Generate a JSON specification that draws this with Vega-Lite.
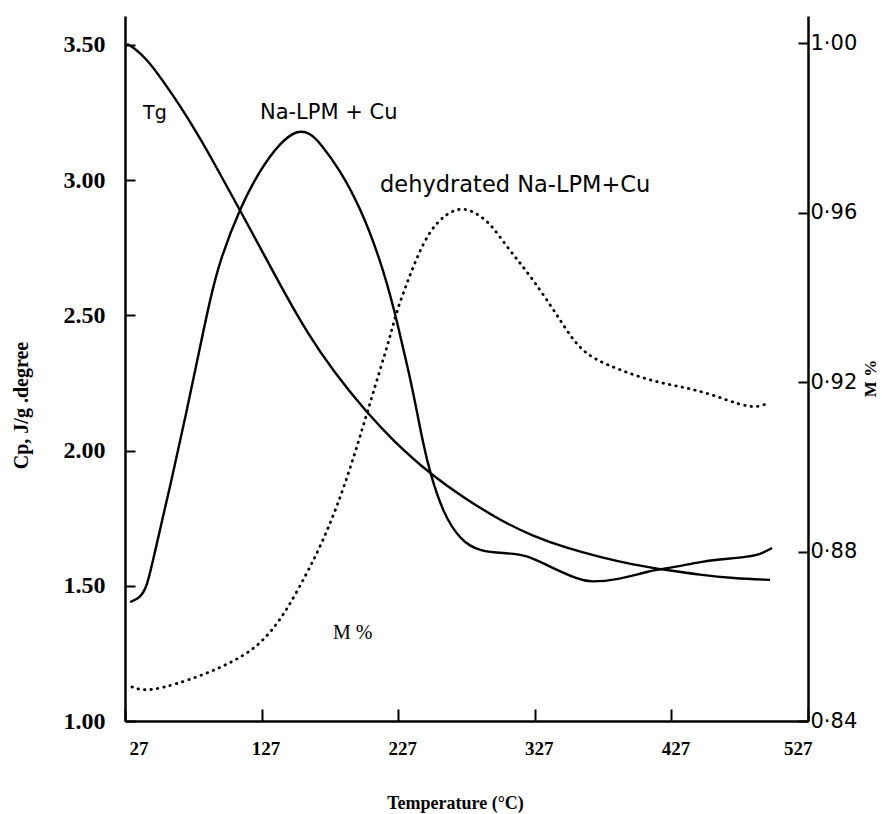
{
  "$schema": "https://vega.github.io/schema/vega-lite/v6.json",
  "width": 683,
  "height": 705,
  "autosize": {"type": "none"},
  "padding": {"left": 125, "top": 16, "right": 74, "bottom": 93},
  "background": "white",
  "config": {
    "view": {"stroke": null},
    "axis": {"grid": false, "domainColor": "black", "tickColor": "black", "labelColor": "black", "titleColor": "black"}
  },
  "datasets": {
    "cp": [
      {"T": 30.7, "Cp": 1.440, "series": "Na-LPM+Cu"},
      {"T": 38.0, "Cp": 1.455, "series": "Na-LPM+Cu"},
      {"T": 43.1, "Cp": 1.496, "series": "Na-LPM+Cu"},
      {"T": 47.5, "Cp": 1.595, "series": "Na-LPM+Cu"},
      {"T": 59.9, "Cp": 1.865, "series": "Na-LPM+Cu"},
      {"T": 72.4, "Cp": 2.150, "series": "Na-LPM+Cu"},
      {"T": 81.9, "Cp": 2.383, "series": "Na-LPM+Cu"},
      {"T": 89.2, "Cp": 2.557, "series": "Na-LPM+Cu"},
      {"T": 96.5, "Cp": 2.705, "series": "Na-LPM+Cu"},
      {"T": 111.2, "Cp": 2.897, "series": "Na-LPM+Cu"},
      {"T": 125.8, "Cp": 3.038, "series": "Na-LPM+Cu"},
      {"T": 140.5, "Cp": 3.138, "series": "Na-LPM+Cu"},
      {"T": 152.9, "Cp": 3.186, "series": "Na-LPM+Cu"},
      {"T": 162.4, "Cp": 3.175, "series": "Na-LPM+Cu"},
      {"T": 169.8, "Cp": 3.138, "series": "Na-LPM+Cu"},
      {"T": 184.4, "Cp": 3.038, "series": "Na-LPM+Cu"},
      {"T": 199.0, "Cp": 2.901, "series": "Na-LPM+Cu"},
      {"T": 213.7, "Cp": 2.710, "series": "Na-LPM+Cu"},
      {"T": 224.7, "Cp": 2.510, "series": "Na-LPM+Cu"},
      {"T": 230.0, "Cp": 2.390, "series": "Na-LPM+Cu"},
      {"T": 235.6, "Cp": 2.272, "series": "Na-LPM+Cu"},
      {"T": 240.5, "Cp": 2.150, "series": "Na-LPM+Cu"},
      {"T": 245.2, "Cp": 2.028, "series": "Na-LPM+Cu"},
      {"T": 250.3, "Cp": 1.917, "series": "Na-LPM+Cu"},
      {"T": 259.8, "Cp": 1.769, "series": "Na-LPM+Cu"},
      {"T": 272.3, "Cp": 1.669, "series": "Na-LPM+Cu"},
      {"T": 286.9, "Cp": 1.625, "series": "Na-LPM+Cu"},
      {"T": 306.7, "Cp": 1.621, "series": "Na-LPM+Cu"},
      {"T": 321.3, "Cp": 1.614, "series": "Na-LPM+Cu"},
      {"T": 338.1, "Cp": 1.570, "series": "Na-LPM+Cu"},
      {"T": 360.1, "Cp": 1.521, "series": "Na-LPM+Cu"},
      {"T": 367.4, "Cp": 1.514, "series": "Na-LPM+Cu"},
      {"T": 387.2, "Cp": 1.521, "series": "Na-LPM+Cu"},
      {"T": 411.4, "Cp": 1.556, "series": "Na-LPM+Cu"},
      {"T": 426.0, "Cp": 1.566, "series": "Na-LPM+Cu"},
      {"T": 447.9, "Cp": 1.588, "series": "Na-LPM+Cu"},
      {"T": 460.4, "Cp": 1.597, "series": "Na-LPM+Cu"},
      {"T": 484.6, "Cp": 1.607, "series": "Na-LPM+Cu"},
      {"T": 494.1, "Cp": 1.621, "series": "Na-LPM+Cu"},
      {"T": 500.7, "Cp": 1.640, "series": "Na-LPM+Cu"},
      {"T": 32.1, "Cp": 1.126, "series": "dehydrated Na-LPM+Cu"},
      {"T": 38.0, "Cp": 1.115, "series": "dehydrated Na-LPM+Cu"},
      {"T": 47.5, "Cp": 1.115, "series": "dehydrated Na-LPM+Cu"},
      {"T": 62.1, "Cp": 1.133, "series": "dehydrated Na-LPM+Cu"},
      {"T": 84.1, "Cp": 1.170, "series": "dehydrated Na-LPM+Cu"},
      {"T": 103.9, "Cp": 1.214, "series": "dehydrated Na-LPM+Cu"},
      {"T": 120.7, "Cp": 1.263, "series": "dehydrated Na-LPM+Cu"},
      {"T": 133.2, "Cp": 1.325, "series": "dehydrated Na-LPM+Cu"},
      {"T": 145.6, "Cp": 1.411, "series": "dehydrated Na-LPM+Cu"},
      {"T": 160.2, "Cp": 1.547, "series": "dehydrated Na-LPM+Cu"},
      {"T": 169.8, "Cp": 1.643, "series": "dehydrated Na-LPM+Cu"},
      {"T": 182.2, "Cp": 1.791, "series": "dehydrated Na-LPM+Cu"},
      {"T": 193.9, "Cp": 1.965, "series": "dehydrated Na-LPM+Cu"},
      {"T": 204.2, "Cp": 2.139, "series": "dehydrated Na-LPM+Cu"},
      {"T": 215.9, "Cp": 2.335, "series": "dehydrated Na-LPM+Cu"},
      {"T": 221.0, "Cp": 2.420, "series": "dehydrated Na-LPM+Cu"},
      {"T": 226.1, "Cp": 2.520, "series": "dehydrated Na-LPM+Cu"},
      {"T": 233.5, "Cp": 2.620, "series": "dehydrated Na-LPM+Cu"},
      {"T": 240.8, "Cp": 2.716, "series": "dehydrated Na-LPM+Cu"},
      {"T": 250.3, "Cp": 2.816, "series": "dehydrated Na-LPM+Cu"},
      {"T": 262.7, "Cp": 2.879, "series": "dehydrated Na-LPM+Cu"},
      {"T": 274.5, "Cp": 2.901, "series": "dehydrated Na-LPM+Cu"},
      {"T": 286.9, "Cp": 2.871, "series": "dehydrated Na-LPM+Cu"},
      {"T": 296.4, "Cp": 2.827, "series": "dehydrated Na-LPM+Cu"},
      {"T": 306.7, "Cp": 2.753, "series": "dehydrated Na-LPM+Cu"},
      {"T": 316.2, "Cp": 2.694, "series": "dehydrated Na-LPM+Cu"},
      {"T": 325.7, "Cp": 2.631, "series": "dehydrated Na-LPM+Cu"},
      {"T": 335.9, "Cp": 2.557, "series": "dehydrated Na-LPM+Cu"},
      {"T": 345.5, "Cp": 2.483, "series": "dehydrated Na-LPM+Cu"},
      {"T": 355.0, "Cp": 2.409, "series": "dehydrated Na-LPM+Cu"},
      {"T": 365.2, "Cp": 2.354, "series": "dehydrated Na-LPM+Cu"},
      {"T": 379.9, "Cp": 2.317, "series": "dehydrated Na-LPM+Cu"},
      {"T": 398.9, "Cp": 2.280, "series": "dehydrated Na-LPM+Cu"},
      {"T": 418.7, "Cp": 2.250, "series": "dehydrated Na-LPM+Cu"},
      {"T": 438.4, "Cp": 2.232, "series": "dehydrated Na-LPM+Cu"},
      {"T": 457.5, "Cp": 2.206, "series": "dehydrated Na-LPM+Cu"},
      {"T": 477.2, "Cp": 2.169, "series": "dehydrated Na-LPM+Cu"},
      {"T": 489.7, "Cp": 2.158, "series": "dehydrated Na-LPM+Cu"},
      {"T": 497.7, "Cp": 2.176, "series": "dehydrated Na-LPM+Cu"}
    ],
    "tg": [
      {"T": 28.5, "M": 0.9998},
      {"T": 32.9, "M": 0.9991},
      {"T": 43.1, "M": 0.9962},
      {"T": 54.8, "M": 0.9911},
      {"T": 67.3, "M": 0.9852},
      {"T": 79.7, "M": 0.9788},
      {"T": 91.4, "M": 0.9722},
      {"T": 103.9, "M": 0.9648},
      {"T": 120.7, "M": 0.9549},
      {"T": 133.2, "M": 0.9474},
      {"T": 145.6, "M": 0.9400},
      {"T": 160.2, "M": 0.9318},
      {"T": 179.3, "M": 0.9226},
      {"T": 204.2, "M": 0.9127},
      {"T": 223.2, "M": 0.9062},
      {"T": 250.3, "M": 0.8983},
      {"T": 277.4, "M": 0.8922},
      {"T": 301.5, "M": 0.8874},
      {"T": 325.7, "M": 0.8836},
      {"T": 350.6, "M": 0.8808},
      {"T": 374.7, "M": 0.8787},
      {"T": 398.9, "M": 0.8769},
      {"T": 423.8, "M": 0.8756},
      {"T": 447.9, "M": 0.8745},
      {"T": 472.1, "M": 0.8737},
      {"T": 499.2, "M": 0.8733}
    ]
  },
  "layer": [
    {
      "layer": [
        {
          "data": {"name": "cp"},
          "transform": [{"filter": "datum.series == 'Na-LPM+Cu'"}],
          "mark": {"type": "line", "interpolate": "basis", "color": "black", "strokeWidth": 2.4},
          "encoding": {
            "x": {
              "field": "T", "type": "quantitative",
              "scale": {"domain": [27, 527], "nice": false, "zero": false},
              "axis": {
                "values": [27, 127, 227, 327, 427, 527],
                "title": "Temperature (°C)",
                "titleFont": "Liberation Serif", "titleFontWeight": "bold", "titleFontSize": 18,
                "titleX": 330, "titleAlign": "center",
                "titleY": 82, "titleBaseline": "middle",
                "labelFont": "Liberation Serif", "labelFontWeight": "bold", "labelFontSize": 19,
                "labelFlush": true, "labelOffset": 4,
                "tickSize": -12, "tickWidth": 2, "labelPadding": 30,
                "domainWidth": 2.5
              }
            },
            "y": {
              "field": "Cp", "type": "quantitative",
              "scale": {"domain": [1, 3.607], "nice": false, "zero": false},
              "axis": {
                "values": [1, 1.5, 2, 2.5, 3, 3.5],
                "format": ".2f",
                "title": "Cp,  J/g .degree",
                "titleFont": "Liberation Serif", "titleFontWeight": "bold", "titleFontSize": 20,
                "titleX": -104, "titleY": 389, "titleAngle": -90, "titleBaseline": "middle",
                "labelFont": "Liberation Serif", "labelFontWeight": "bold", "labelFontSize": 24,
                "tickSize": -10, "tickWidth": 2, "labelPadding": 30,
                "domainWidth": 2.5
              }
            }
          }
        },
        {
          "data": {"name": "cp"},
          "transform": [{"filter": "datum.series == 'dehydrated Na-LPM+Cu'"}],
          "mark": {"type": "line", "interpolate": "basis", "color": "black", "strokeWidth": 2.8, "strokeDash": [0.5, 6], "strokeCap": "round"},
          "encoding": {
            "x": {"field": "T", "type": "quantitative"},
            "y": {"field": "Cp", "type": "quantitative"}
          }
        },
        {
          "data": {"values": [{}]},
          "mark": {"type": "text", "text": "Tg", "font": "DejaVu Sans", "fontSize": 19, "align": "left", "baseline": "middle", "color": "black"},
          "encoding": {"x": {"datum": 40.2, "type": "quantitative"}, "y": {"datum": 3.249, "type": "quantitative"}}
        },
        {
          "data": {"values": [{}]},
          "mark": {"type": "text", "text": "Na-LPM + Cu", "font": "DejaVu Sans", "fontSize": 21, "align": "left", "baseline": "middle", "color": "black"},
          "encoding": {"x": {"datum": 125.8, "type": "quantitative"}, "y": {"datum": 3.249, "type": "quantitative"}}
        },
        {
          "data": {"values": [{}]},
          "mark": {"type": "text", "text": "dehydrated Na-LPM+Cu", "font": "DejaVu Sans", "fontSize": 22.5, "align": "left", "baseline": "middle", "color": "black"},
          "encoding": {"x": {"datum": 213.7, "type": "quantitative"}, "y": {"datum": 2.982, "type": "quantitative"}}
        },
        {
          "data": {"values": [{}]},
          "mark": {"type": "text", "text": "M %", "font": "Liberation Serif", "fontSize": 20, "align": "left", "baseline": "middle", "color": "black"},
          "encoding": {"x": {"datum": 179.3, "type": "quantitative"}, "y": {"datum": 1.325, "type": "quantitative"}}
        }
      ]
    },
    {
      "data": {"name": "tg"},
      "mark": {"type": "line", "interpolate": "basis", "color": "black", "strokeWidth": 2.4},
      "encoding": {
        "x": {"field": "T", "type": "quantitative"},
        "y": {
          "field": "M", "type": "quantitative",
          "scale": {"domain": [0.84, 1.0064], "nice": false, "zero": false},
          "axis": {
            "orient": "right",
            "values": [0.84, 0.88, 0.92, 0.96, 1.0],
            "labelExpr": "replace(format(datum.value, '.2f'), '.', '·')",
            "title": "M %",
            "titleFont": "Liberation Serif", "titleFontWeight": "bold", "titleFontSize": 17,
            "titleX": 62, "titleY": 362, "titleAngle": -90, "titleBaseline": "middle",
            "labelFont": "DejaVu Sans", "labelFontSize": 21,
            "tickSize": -10, "tickWidth": 2, "labelPadding": 12,
            "domainWidth": 2.5
          }
        }
      }
    }
  ],
  "resolve": {"scale": {"y": "independent"}}
}
